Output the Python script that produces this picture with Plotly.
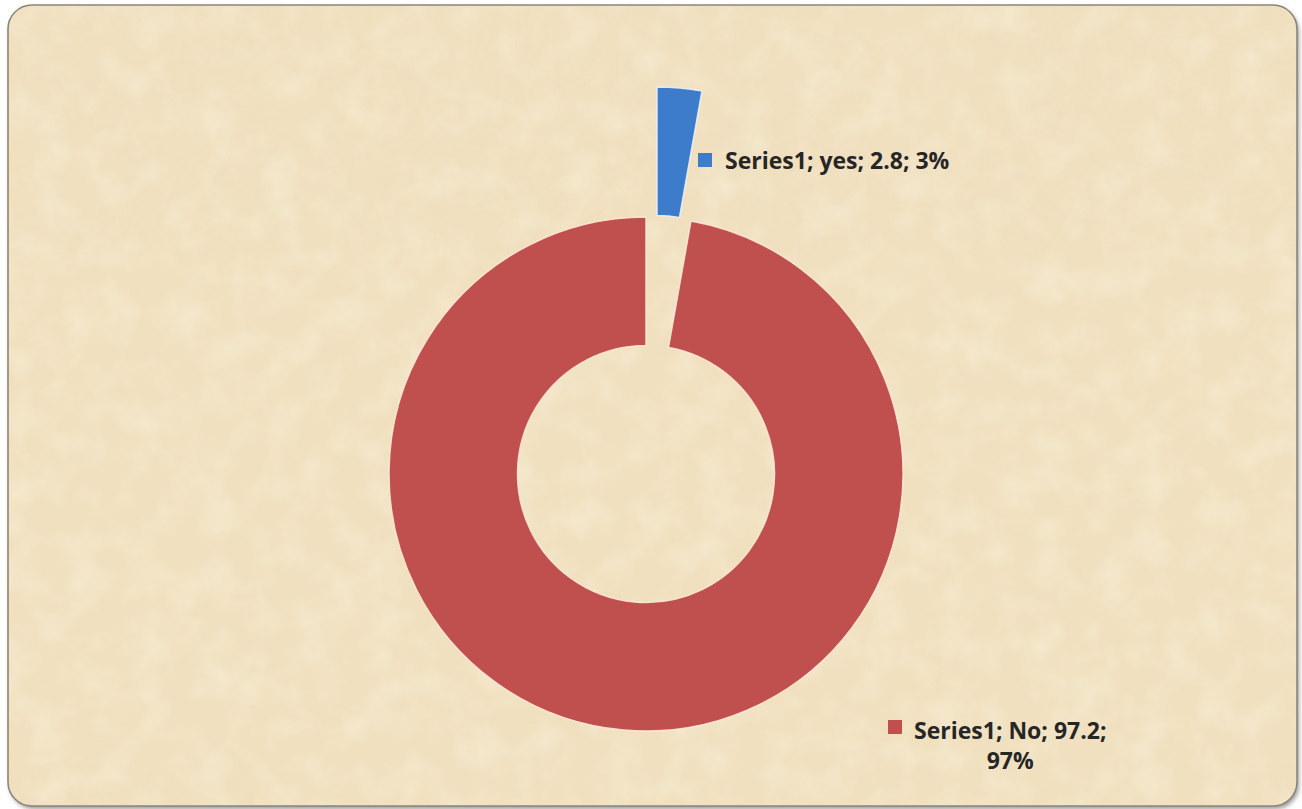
import base64
import plotly.graph_objects as go

# Chart data
series_name = "Series1"
categories = ["yes", "No"]
values = [2.8, 97.2]
slice_colors = ["#3D7CCB", "#C0504D"]

W, H = 1302, 809


def fx(px):
    return px / W


def fy(py):
    return 1 - py / H


# Parchment-like card: rounded frame with a soft drop shadow and a mottled fill
card_svg = f"""<svg xmlns='http://www.w3.org/2000/svg' width='{W}' height='{H}' viewBox='0 0 {W} {H}'>
<defs>
<filter id='shadow' x='-5%' y='-5%' width='110%' height='110%'>
  <feDropShadow dx='2' dy='3' stdDeviation='2' flood-color='#4a4a4a' flood-opacity='0.55'/>
</filter>
<filter id='mottle' x='0' y='0' width='100%' height='100%'>
  <feTurbulence type='fractalNoise' baseFrequency='0.006' numOctaves='4' seed='7'/>
  <feColorMatrix type='matrix' values='0 0 0 0 0.88  0 0 0 0 0.74  0 0 0 0 0.50  1.6 0 0 0 -0.62'/>
</filter>
<filter id='grain' x='0' y='0' width='100%' height='100%'>
  <feTurbulence type='fractalNoise' baseFrequency='0.03' numOctaves='3' seed='11'/>
  <feColorMatrix type='matrix' values='0 0 0 0 1  0 0 0 0 0.96  0 0 0 0 0.86  0 1.6 0 0 -0.62'/>
</filter>
<clipPath id='card'><rect x='8' y='5' width='1289' height='801' rx='24' ry='24'/></clipPath>
</defs>
<rect x='8' y='5' width='1289' height='801' rx='24' ry='24' fill='#F0E0BF' filter='url(#shadow)'/>
<g clip-path='url(#card)'>
  <rect x='0' y='0' width='{W}' height='{H}' filter='url(#mottle)' opacity='0.36'/>
  <rect x='0' y='0' width='{W}' height='{H}' filter='url(#grain)' opacity='0.35'/>
</g>
<rect x='8' y='5' width='1289' height='801' rx='24' ry='24' fill='none' stroke='#8c8579' stroke-width='1.6'/>
</svg>"""
card_uri = "data:image/svg+xml;base64," + base64.b64encode(card_svg.encode()).decode()

# Ring geometry (pixels)
cx, cy, r = 646, 474, 257
pull_dx, pull_dy = 11, 130

fig = go.Figure()

# Main ring: the "No" slice in place, the "yes" slice left empty
fig.add_trace(go.Pie(
    labels=categories, values=values, sort=False, direction="clockwise", rotation=0,
    hole=0.5, textinfo="none", hoverinfo="skip", showlegend=False,
    marker=dict(colors=["rgba(0,0,0,0)", slice_colors[1]],
                line=dict(color=["rgba(0,0,0,0)", "rgba(255,232,215,0.9)"], width=[0, 1.5])),
    domain=dict(x=[fx(cx - r), fx(cx + r)], y=[fy(cy + r), fy(cy - r)]),
))

# Exploded "yes" slice, drawn from the same values on a shifted ring
ex, ey = cx + pull_dx, cy - pull_dy
fig.add_trace(go.Pie(
    labels=categories, values=values, sort=False, direction="clockwise", rotation=0,
    hole=0.5, textinfo="none", hoverinfo="skip", showlegend=False,
    marker=dict(colors=[slice_colors[0], "rgba(0,0,0,0)"],
                line=dict(color=["rgba(235,240,250,0.9)", "rgba(0,0,0,0)"], width=[1.5, 0])),
    domain=dict(x=[fx(ex - r), fx(ex + r)], y=[fy(ey + r), fy(ey - r)]),
))

total = sum(values)
label_texts = [f"{series_name}; {c}; {v}; {v / total * 100:.0f}%" for c, v in zip(categories, values)]

label_font = dict(family="'Open Sans', Lato, sans-serif", size=23, color="#262626")

annotations = [
    dict(text=f"<b>{label_texts[0]}</b>", x=fx(723), y=fy(160), xref="paper", yref="paper",
         xanchor="left", yanchor="middle", showarrow=False, font=label_font),
    dict(text="<b>" + label_texts[1].replace("; 97%", ";<br>97%") + "</b>",
         x=fx(1010), y=fy(745), xref="paper", yref="paper",
         xanchor="center", yanchor="middle", align="center", showarrow=False, font=label_font),
]

shapes = [
    dict(type="rect", xref="paper", yref="paper", x0=fx(698), x1=fx(712), y0=fy(167), y1=fy(153),
         fillcolor=slice_colors[0], line=dict(width=0)),
    dict(type="rect", xref="paper", yref="paper", x0=fx(888), x1=fx(902), y0=fy(734), y1=fy(720),
         fillcolor=slice_colors[1], line=dict(width=0)),
]

fig.update_layout(
    width=W, height=H,
    margin=dict(l=0, r=0, t=0, b=0),
    paper_bgcolor="white", plot_bgcolor="rgba(0,0,0,0)",
    images=[dict(source=card_uri, xref="paper", yref="paper", x=0, y=1, sizex=1, sizey=1,
                 xanchor="left", yanchor="top", sizing="stretch", layer="below")],
    annotations=annotations, shapes=shapes,
)

fig.write_html("out.html")
